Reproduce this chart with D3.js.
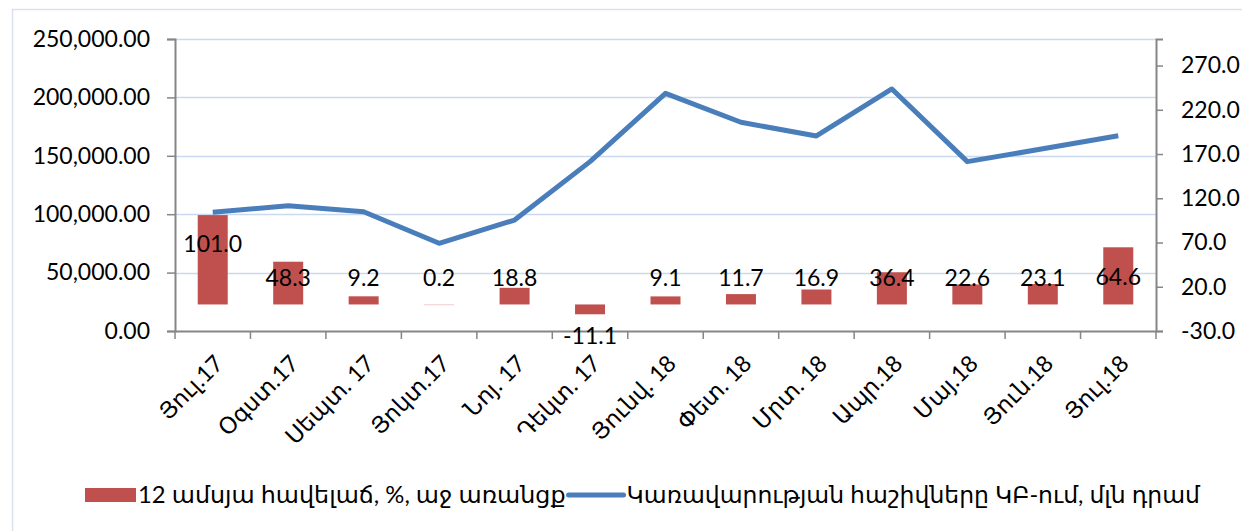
<!DOCTYPE html>
<html>
<head>
<meta charset="utf-8">
<script src="https://cdn.jsdelivr.net/npm/d3@7"></script>
<style>
  body { margin: 0; background: #fff; }
  svg { display: block; }
  text { font-family: Lato, "DejaVu Sans", sans-serif; fill: #000; }
</style>
</head>
<body>
<div id="chart"></div>
<script>
// months (Jul 2017 - Jul 2018)
var categories = ["Յուլ.17", "Օգստ.17", "Սեպտ. 17", "Յոկտ.17", "Նոյ. 17", "Դեկտ. 17", "Յունվ. 18",
  "Փետ. 18", "Մրտ. 18", "Ապր.18", "Մայ.18", "Յուն.18", "Յուլ.18"];
// 12 month growth, %, right axis
var growth = [101.0, 48.3, 9.2, 0.2, 18.8, -11.1, 9.1, 11.7, 16.9, 36.4, 22.6, 23.1, 64.6];
// government accounts at CB, mln dram, left axis
var accounts = [101600, 107300, 102100, 75100, 95000, 145000, 203500, 178700, 167000, 207200, 145000, 156000, 167200];
var leftTicks = [0, 50000, 100000, 150000, 200000, 250000];
var rightTicks = [-30, 20, 70, 120, 170, 220, 270];
var legendLabels = ["12 ամսյա հավելաճ, %, աջ առանցք", "Կառավարության հաշիվները ԿԲ-ում, մլն դրամ"];

var width = 1242, height = 531;
var margin = {left: 175, right: 86, top: 39, bottom: 200};
var barColor = "#c0504d", lineColor = "#4a7ebb", axisColor = "#868686", gridColor = "#c9daf0";

// excel style: hyphen instead of unicode minus
function fmt1(d){ return d3.format(".1f")(d).replace("\u2212", "-"); }

var svg = d3.select("#chart").append("svg")
  .attr("width", width)
  .attr("height", height);

// outer chart border
svg.append("rect")
  .attr("x", 12.5).attr("y", 9.5)
  .attr("width", 1250).attr("height", 560)
  .attr("fill", "none")
  .attr("stroke", "#d9e1ee")
  .attr("stroke-width", 1.5);

var x0 = margin.left, x1 = width - margin.right;
var y0 = height - margin.bottom, y1 = margin.top;

var x = d3.scaleBand().domain(categories).range([x0, x1]).paddingInner(0).paddingOuter(0);
var yL = d3.scaleLinear().domain([0, 250000]).range([y0, y1]);
var yR = d3.scaleLinear().domain([-30, 300]).range([y0, y1]);

// gridlines
svg.append("g").selectAll("line")
  .data(leftTicks.filter(function(d){ return d > 0; }))
  .enter().append("line")
  .attr("x1", x0).attr("x2", x1)
  .attr("y1", function(d){ return Math.round(yL(d)) + 0.5; })
  .attr("y2", function(d){ return Math.round(yL(d)) + 0.5; })
  .attr("stroke", gridColor)
  .attr("stroke-width", 1.5);

// left axis
var leftAxis = svg.append("g")
  .attr("transform", "translate(" + x0 + ",0)")
  .call(d3.axisLeft(yL).tickValues(leftTicks).tickSize(8).tickPadding(17)
    .tickFormat(function(d){ return d3.format(",.2f")(d); }));
// right axis
var rightAxis = svg.append("g")
  .attr("transform", "translate(" + x1 + ",0)")
  .call(d3.axisRight(yR).tickValues(rightTicks).tickSize(7).tickPadding(18)
    .tickFormat(fmt1));
// bottom axis
var bottomAxis = svg.append("g")
  .attr("transform", "translate(0," + y0 + ")")
  .call(d3.axisBottom(x).tickValues([]).tickSizeOuter(0));
bottomAxis.selectAll(".cat-tick")
  .data(d3.range(categories.length + 1))
  .enter().append("line")
  .attr("class", "cat-tick")
  .attr("x1", function(i){ return x0 + i * x.step(); })
  .attr("x2", function(i){ return x0 + i * x.step(); })
  .attr("y1", 0).attr("y2", 8)
  .attr("stroke", axisColor).attr("stroke-width", 1.5);

[leftAxis, rightAxis, bottomAxis].forEach(function(g){
  g.select(".domain").attr("stroke", axisColor).attr("stroke-width", 2);
  g.selectAll(".tick line").attr("stroke", axisColor).attr("stroke-width", 1.5);
  g.selectAll(".tick text").attr("font-size", 23).attr("font-family", "Lato, 'DejaVu Sans', sans-serif").attr("fill", "#000");
});

// category labels, rotated
svg.append("g").selectAll("text")
  .data(categories)
  .enter().append("text")
  .attr("transform", function(d){
    return "translate(" + (x(d) + x.bandwidth() / 2 + 12) + "," + (y0 + 34) + ") rotate(-45)";
  })
  .attr("text-anchor", "end")
  .attr("font-size", 23)
  .attr("font-family", "'DejaVu Sans', sans-serif")
  .text(function(d){ return d; });

// bars (right axis)
var barW = 30;
svg.append("g").selectAll("rect")
  .data(growth)
  .enter().append("rect")
  .attr("x", function(d, i){ return x(categories[i]) + x.bandwidth() / 2 - barW / 2; })
  .attr("y", function(d){ return yR(Math.max(0, d)); })
  .attr("width", barW)
  .attr("height", function(d){ return Math.max(1, Math.abs(yR(d) - yR(0))); })
  .attr("fill", function(d){ return Math.abs(d) < 1 ? "#f2c9c8" : barColor; });

// line (left axis)
var line = d3.line()
  .x(function(d, i){ return x(categories[i]) + x.bandwidth() / 2; })
  .y(function(d){ return yL(d); });
svg.append("path")
  .datum(accounts)
  .attr("d", line)
  .attr("fill", "none")
  .attr("stroke", lineColor)
  .attr("stroke-width", 5)
  .attr("stroke-linejoin", "round");

// bar labels
svg.append("g").selectAll("text")
  .data(growth)
  .enter().append("text")
  .attr("x", function(d, i){ return x(categories[i]) + x.bandwidth() / 2; })
  .attr("y", function(d){
    if (d < 0) return yR(d) + 21;
    return Math.min(yR(d) + 29, yR(30));
  })
  .attr("dy", "0.36em")
  .attr("text-anchor", "middle")
  .attr("font-size", 23)
  .text(fmt1);

// legend
var legend = svg.append("g").attr("transform", "translate(0,495)");
legend.append("rect")
  .attr("x", 85).attr("y", -7).attr("width", 51).attr("height", 14)
  .attr("fill", barColor);
legend.append("text")
  .attr("x", 138).attr("y", 0).attr("dy", "0.35em")
  .attr("font-size", 23.8)
  .attr("font-family", "'DejaVu Sans', sans-serif")
  .text(legendLabels[0]);
var l1 = legend.select("text").node().getComputedTextLength();
var lx = 138 + l1 + 3;
legend.append("line")
  .attr("x1", lx).attr("x2", lx + 55)
  .attr("y1", 0).attr("y2", 0)
  .attr("stroke", lineColor).attr("stroke-width", 5).attr("stroke-linecap", "round");
legend.append("text")
  .attr("x", lx + 58).attr("y", 0).attr("dy", "0.35em")
  .attr("font-size", 23.5)
  .attr("font-family", "'DejaVu Sans', sans-serif")
  .text(legendLabels[1]);
</script>
</body>
</html>
